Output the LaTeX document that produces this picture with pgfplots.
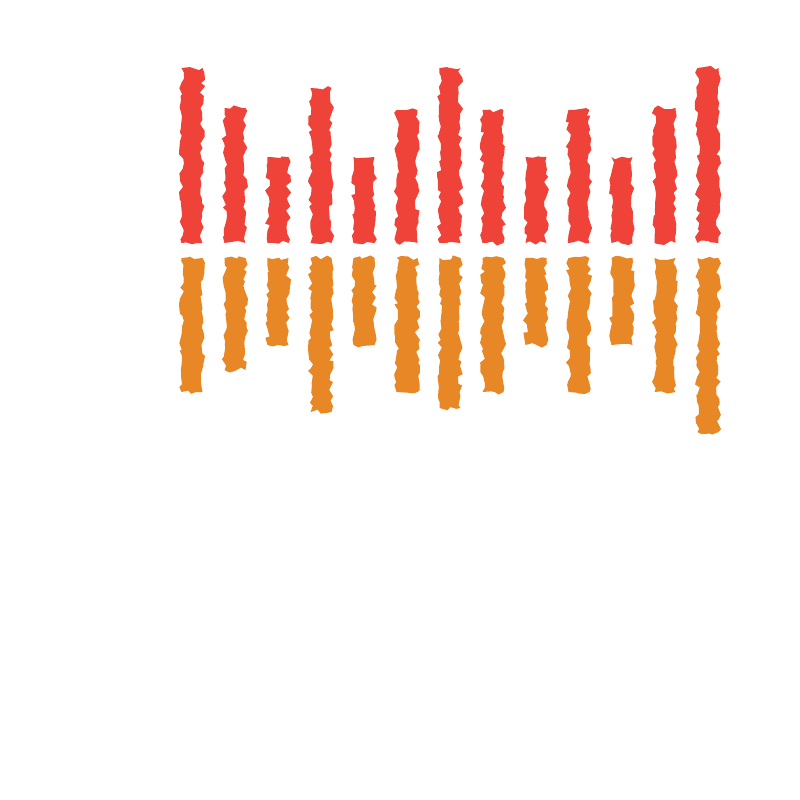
\documentclass[border=0pt]{standalone}
\usepackage{pgfplots}
\pgfplotsset{compat=1.18}
\usetikzlibrary{decorations.pathmorphing}
\definecolor{cred}{RGB}{239,66,56}
\definecolor{corange}{RGB}{232,135,37}
\begin{document}
\begin{tikzpicture}
\pgfmathsetseed{7}
\path[use as bounding box] (0,0) rectangle (400pt,400pt);
\pgfplotsset{rough/.style={decorate,decoration={random steps,segment length=2.5pt,amplitude=1.3pt}}}
\begin{axis}[at={(85.25pt,278.5pt)},anchor=south west,scale only axis,width=279.5pt,height=100pt,
  xmin=-0.5,xmax=12.5,ymin=0,ymax=200,hide axis,clip=false,ybar,bar width=10.5pt]
\addplot[fill=cred,draw=none,rough] coordinates {(0,175)(1,135)(2,86)(3,155)(4,86)(5,133)(6,175)(7,133)(8,86)(9,133)(10,86)(11,135)(12,175)};
\end{axis}
\begin{axis}[at={(85.25pt,271pt)},anchor=north west,scale only axis,width=279.5pt,height=100pt,
  xmin=-0.5,xmax=12.5,ymin=-200,ymax=0,hide axis,clip=false,ybar,bar width=10.5pt]
\addplot[fill=corange,draw=none,rough] coordinates {(0,-134)(1,-112)(2,-87)(3,-154)(4,-87)(5,-134)(6,-150)(7,-134)(8,-87)(9,-134)(10,-87)(11,-134)(12,-174)};
\end{axis}
\end{tikzpicture}
\end{document}
